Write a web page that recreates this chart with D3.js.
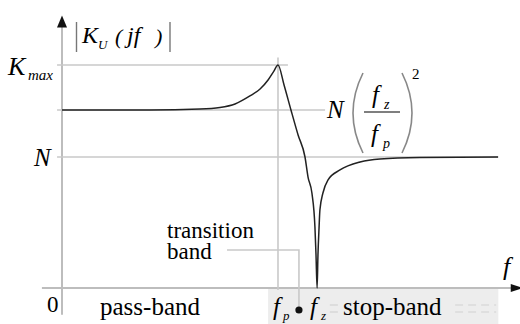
<!DOCTYPE html>
<html><head><meta charset="utf-8"><script src="https://cdn.jsdelivr.net/npm/d3@7"></script></head>
<body style="margin:0">
<svg id="chart" width="520" height="324" style="font-family: serif"></svg>
<script>
// Normalised frequency (f / f_p) and gain (|K_U| / N) of the filter response
const freq = [0, 0.407, 0.639, 0.731, 0.801, 0.870, 0.917, 0.954, 0.981, 1.000,
              1.028, 1.060, 1.093, 1.125, 1.139, 1.157, 1.171, 1.176, 1.181,
              1.185, 1.190, 1.194, 1.208, 1.231, 1.287, 1.380, 1.472, 1.657, 2.019];
const gain = [1.359, 1.359, 1.366, 1.378, 1.405, 1.466, 1.519, 1.588, 1.656, 1.702,
              1.550, 1.359, 1.168, 1.000, 0.847, 0.725, 0.466, 0.252, 0,
              0.252, 0.458, 0.595, 0.725, 0.824, 0.901, 0.962, 0.985, 0.996, 1.000];

// Characteristic levels and frequencies
const levels = { Kmax: 1.702, pass: 1.359, N: 1 };
const fp = 1, fz = 1.181;
const freqEnd = 2.019;

const svg = d3.select("#chart");
const x = d3.scaleLinear().domain([0, 1]).range([62, 278]);
const y = d3.scaleLinear().domain([0, 1]).range([288, 157]);

const grey = "#c9c9c9";

// stop-band shading below the frequency axis
svg.append("rect")
  .attr("x", x(0.954)).attr("y", y(-0.008))
  .attr("width", x(2.02) - x(0.954)).attr("height", 36)
  .attr("fill", "#ededed");
[[x(1.24), x(1.30)], [x(1.82), x(2.01)]].forEach(([a, b]) => {
  [305, 312].forEach(yy => {
    svg.append("line")
      .attr("x1", a).attr("x2", b).attr("y1", yy).attr("y2", yy)
      .attr("stroke", "#d2d2d2").attr("stroke-width", 1.2)
      .attr("stroke-dasharray", "8,5");
  });
});

// axis lines
const yTop = y(2.05), yBottom = y(-0.205);
const xStart = x(-0.093), xEnd = x(2.11);
svg.append("line").attr("x1", x(0)).attr("x2", x(0)).attr("y1", yBottom).attr("y2", yTop)
  .attr("stroke", "#bdbdbd").attr("stroke-width", 2);
svg.append("line").attr("x1", xStart).attr("x2", xEnd).attr("y1", y(0)).attr("y2", y(0))
  .attr("stroke", "#bdbdbd").attr("stroke-width", 2);

// arrow heads
svg.append("path")
  .attr("d", `M${x(0)},${yTop - 4} L${x(0) - 5},${yTop + 8} L${x(0) + 5},${yTop + 8} Z`)
  .attr("fill", "#111");
svg.append("path")
  .attr("d", `M${xEnd + 5},${y(0)} L${xEnd - 7},${y(0) - 4} L${xEnd - 7},${y(0) + 4} Z`)
  .attr("fill", "#111");

// reference lines
const hline = (v, f1, f2) => svg.append("line")
  .attr("x1", x(f1)).attr("x2", x(f2)).attr("y1", y(v)).attr("y2", y(v))
  .attr("stroke", grey).attr("stroke-width", 1.6);
hline(levels.Kmax, -0.023, 1.046);
hline(levels.pass, -0.023, 1.218);
hline(levels.N, -0.023, freqEnd);
svg.append("line")
  .attr("x1", x(fp)).attr("x2", x(fp)).attr("y1", y(1.76)).attr("y2", y(-0.015))
  .attr("stroke", grey).attr("stroke-width", 1.6);

// transition band pointer
const fT = 1.097;
svg.append("path")
  .attr("d", `M${x(0.764)},${y(0.29)} H${x(fT)} V${y(-0.16)}`)
  .attr("fill", "none").attr("stroke", grey).attr("stroke-width", 1.6);
svg.append("circle").attr("cx", x(fT)).attr("cy", y(-0.168)).attr("r", 3.6).attr("fill", "#111");

// response curve
const pts = freq.map((f, i) => [f, gain[i]]);
svg.append("path")
  .datum(pts)
  .attr("d", d3.line().x(d => x(d[0])).y(d => y(d[1])).curve(d3.curveMonotoneX))
  .attr("fill", "none").attr("stroke", "#222").attr("stroke-width", 1.5);

// |K_U(jf)| bars and the fraction's brackets
svg.append("line").attr("x1", 76.5).attr("x2", 76.5).attr("y1", 22).attr("y2", 52)
  .attr("stroke", "#777").attr("stroke-width", 1.4);
svg.append("line").attr("x1", 170).attr("x2", 170).attr("y1", 22).attr("y2", 52)
  .attr("stroke", "#777").attr("stroke-width", 1.4);
svg.append("path").attr("d", "M363,73 Q343,113 363,153")
  .attr("fill", "none").attr("stroke", "#888").attr("stroke-width", 1.6);
svg.append("path").attr("d", "M402,73 Q422,113 402,153")
  .attr("fill", "none").attr("stroke", "#888").attr("stroke-width", 1.6);
svg.append("line").attr("x1", 364).attr("x2", 400).attr("y1", 112).attr("y2", 112)
  .attr("stroke", "#555").attr("stroke-width", 1.6);

// text labels: [x, y, text, size, italic]
const labelRows = [
  [82, 43, "K", 24, true], [98, 49, "U", 13, true], [115, 44, "(", 22, true],
  [127, 43, "jf", 24, true], [155, 44, ")", 22, true],
  [8, 75, "K", 26, true], [28, 80, "max", 15, true],
  [34, 166, "N", 25, true], [47, 312, "0", 23, false],
  [327, 118, "N", 25, true],
  [372, 103, "f", 25, true], [384, 109, "z", 14, true],
  [371, 142, "f", 25, true], [383, 148, "p", 14, true],
  [412, 79, "2", 15, false],
  [503, 275, "f", 26, true],
  [273, 315, "f", 25, true], [283, 320, "p", 13, true],
  [310, 315, "f", 25, true], [321, 320, "z", 13, true],
  [100, 315, "pass-band", 25, false],
  [167, 238, "transition", 23, false],
  [167, 259, "band", 23, false],
  [343, 315, "stop-band", 25, false]
];
const labels = svg.selectAll("text").data(labelRows).join("text")
  .attr("x", d => d[0]).attr("y", d => d[1])
  .attr("font-family", "serif")
  .attr("font-size", d => d[3])
  .text(d => d[2]);
labels.filter(d => d[4]).attr("font-style", "italic");
</script></body></html>
